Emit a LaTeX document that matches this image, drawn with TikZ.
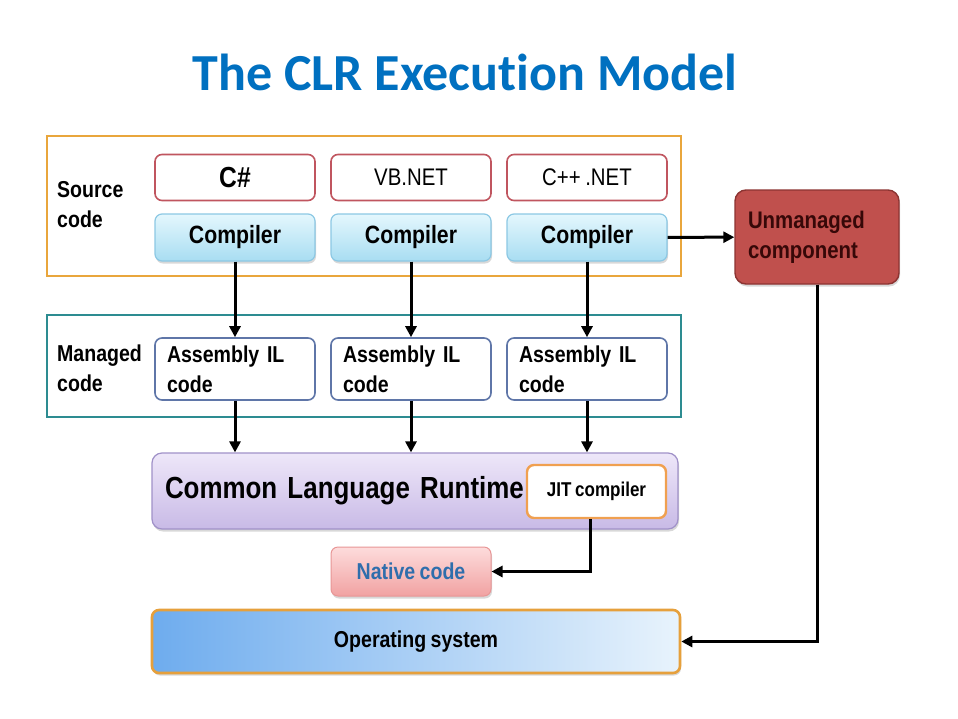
\documentclass[tikz,border=0pt]{standalone}
\usepackage{fontspec}
\setmainfont{Liberation Sans}
\newfontfamily\narrowfont{Liberation Sans}[FakeStretch=0.85, WordSpace=0.8]
\newfontfamily\titlefont{Carlito}[Ligatures=NoCommon]
\usetikzlibrary{arrows.meta,shadows}

\definecolor{titleblue}{RGB}{0,112,192}
\definecolor{srcorange}{RGB}{233,166,60}
\definecolor{mgdteal}{RGB}{45,140,145}
\definecolor{langred}{RGB}{192,85,95}
\definecolor{compline}{RGB}{140,200,228}
\definecolor{comptop}{RGB}{228,247,253}
\definecolor{compbot}{RGB}{168,221,242}
\definecolor{asmline}{RGB}{95,118,168}
\definecolor{clrline}{RGB}{160,145,200}
\definecolor{clrtop}{RGB}{238,231,249}
\definecolor{clrbot}{RGB}{200,186,230}
\definecolor{jitline}{RGB}{240,160,80}
\definecolor{natline}{RGB}{232,150,150}
\definecolor{nattop}{RGB}{253,220,220}
\definecolor{natbot}{RGB}{241,162,162}
\definecolor{natblue}{RGB}{47,110,172}
\definecolor{osleft}{RGB}{110,172,238}
\definecolor{osright}{RGB}{232,243,252}
\definecolor{osline}{RGB}{230,160,60}
\definecolor{unmfill}{RGB}{192,80,77}
\definecolor{unmline}{RGB}{140,52,50}
\definecolor{unmtext}{RGB}{55,8,8}

\tikzset{
	box/.style={rectangle, rounded corners=7pt, inner sep=0pt, minimum width=160pt},
	shade box/.style={drop shadow={shadow xshift=1pt, shadow yshift=-2.5pt, opacity=0.3}},
	frame/.style={rectangle, line width=2.2pt, inner sep=0pt},
	grouplabel/.style={align=left, anchor=west, inner sep=0pt, font=\narrowfont\bfseries\fontsize{23}{30}\selectfont},
	langbox/.style={box, draw=langred, line width=1.6pt, fill=white, minimum height=46pt, font=\narrowfont\fontsize{24}{28}\selectfont},
	compbox/.style={box, shade box, draw=compline, line width=1.2pt, top color=comptop, bottom color=compbot, minimum height=47pt, font=\narrowfont\bfseries\fontsize{25}{28}\selectfont},
	asmbox/.style={box, draw=asmline, line width=1.6pt, fill=white, minimum height=62pt, text width=136pt, inner xsep=12pt, align=left, font=\narrowfont\bfseries\fontsize{23}{30}\selectfont},
	arr/.style={line width=3pt, -{Triangle[length=11pt,width=11pt]}},
}

\begin{document}
\begin{tikzpicture}[x=1pt, y=-1pt]
	\fill[white] (0,0) rectangle (958,718);
	\useasboundingbox (0,0) rectangle (958,718);

	\node[font=\titlefont\bfseries\fontsize{52}{60}\selectfont, text=titleblue] (title) at (465,72) {The CLR Execution Model};

	% source code
	\node[frame, draw=srcorange, minimum width=634pt, minimum height=140pt] (srcframe) at (364,206) {};
	\node[grouplabel] (srclabel) at (57,205) {Source\\code};
	\node[langbox, font=\narrowfont\bfseries\fontsize{29}{32}\selectfont] (lang1) at (235,177.5) {C\#};
	\node[langbox] (lang2) at (411,177.5) {VB.NET};
	\node[langbox] (lang3) at (587,177.5) {C++ .NET};
	\node[compbox] (comp1) at (235,237.5) {Compiler};
	\node[compbox] (comp2) at (411,237.5) {Compiler};
	\node[compbox] (comp3) at (587,237.5) {Compiler};

	% managed code
	\node[frame, draw=mgdteal, minimum width=634pt, minimum height=102pt] (mgdframe) at (364,366) {};
	\node[grouplabel] (mgdlabel) at (57,368) {Managed\\code};
	\node[asmbox] (asm1) at (235,369) {Assembly IL\\code};
	\node[asmbox] (asm2) at (411,369) {Assembly IL\\code};
	\node[asmbox] (asm3) at (587,369) {Assembly IL\\code};

	\node[box, shade box, rounded corners=10pt, draw=clrline, line width=1.2pt, top color=clrtop, bottom color=clrbot, minimum width=526pt, minimum height=76pt, text width=500pt, inner xsep=13pt, align=left, font=\narrowfont\bfseries\fontsize{30.5}{36}\selectfont] (clr) at (415,491) {Common Language Runtime};
	\node[box, draw=jitline, line width=2.4pt, fill=white, minimum width=139pt, minimum height=53pt, font=\narrowfont\bfseries\fontsize{20}{24}\selectfont] (jit) at (596.5,491.5) {JIT compiler};

	\node[box, shade box, draw=natline, line width=1pt, top color=nattop, bottom color=natbot, minimum height=49pt, text=natblue, font=\narrowfont\bfseries\fontsize{23}{26}\selectfont] (native) at (411,571.5) {Native code};

	\node[box, shade box, draw=osline, line width=2.6pt, left color=osleft, right color=osright, minimum width=528pt, minimum height=63pt, font=\narrowfont\bfseries\fontsize{23}{26}\selectfont] (os) at (416,641.5) {Operating system};

	\node[box, shade box, rounded corners=11pt, draw=unmline, line width=1.4pt, fill=unmfill, minimum width=164pt, minimum height=94pt, text width=138pt, inner xsep=13pt, align=left, text=unmtext, font=\narrowfont\bfseries\fontsize{24}{30}\selectfont] (unman) at (817,237) {Unmanaged\\component};

	\foreach \i in {1,2,3} {
		\draw[arr] (comp\i) -- (asm\i);
		\draw[arr] (asm\i.south) -- (asm\i.south |- clr.north);
	}
	\draw[arr] (comp3) -- (unman);
	\draw[arr] ([xshift=-6pt]jit.south) |- (native);
	\draw[arr] (unman) |- (os);
\end{tikzpicture}
\end{document}
